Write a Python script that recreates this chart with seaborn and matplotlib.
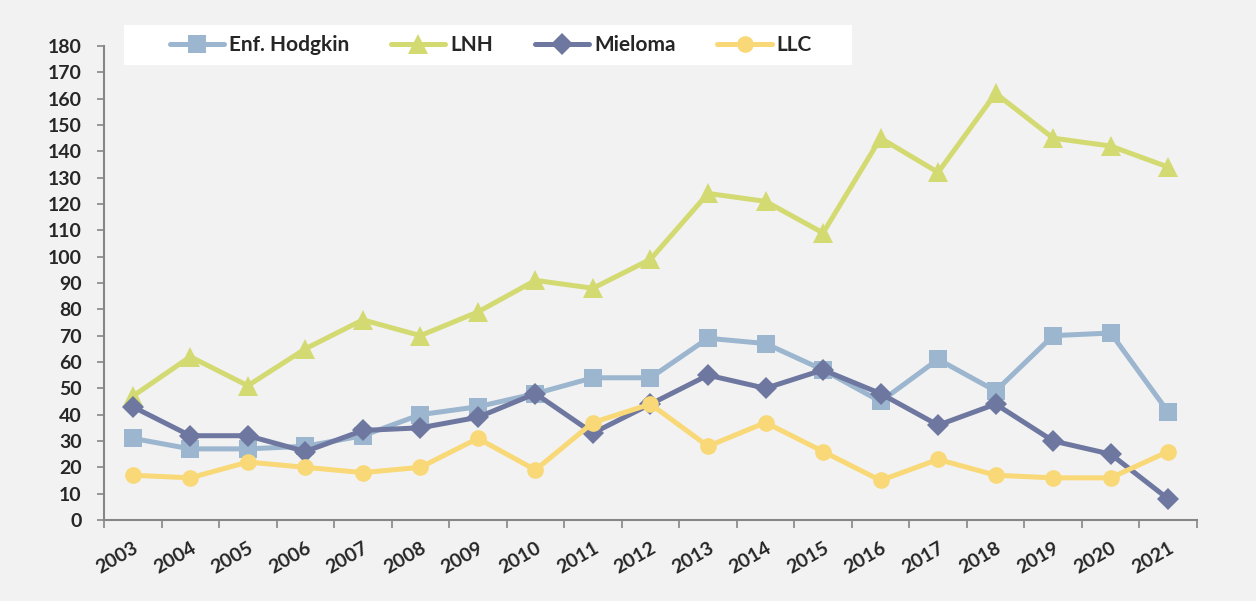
import pandas as pd
import seaborn as sns
import matplotlib.pyplot as plt
import numpy as np
from matplotlib.patches import Rectangle

# Data
years = [str(y) for y in range(2003, 2022)]
hodgkin = [31, 27, 27, 28, 32, 40, 43, 48, 54, 54, 69, 67, 57, 45, 61, 49, 70, 71, 41]
lnh = [47, 62, 51, 65, 76, 70, 79, 91, 88, 99, 124, 121, 109, 145, 132, 162, 145, 142, 134]
mieloma = [43, 32, 32, 26, 34, 35, 39, 48, 33, 44, 55, 50, 57, 48, 36, 44, 30, 25, 8]
llc = [17, 16, 22, 20, 18, 20, 31, 19, 37, 44, 28, 37, 26, 15, 23, 17, 16, 16, 26]

series_names = ['Enf. Hodgkin', 'LNH', 'Mieloma', 'LLC']
series_values = [hodgkin, lnh, mieloma, llc]
colors = ['#9BB6CE', '#D3DA72', '#6E779F', '#F9D877']
markers = ['s', '^', 'D', 'o']
marker_sizes = [13, 14, 11, 12]

bg = '#F2F2F2'
sns.set_style('ticks')
plt.rcParams['font.family'] = ['Lato', 'DejaVu Sans']
plt.rcParams['font.weight'] = 'bold'

df = pd.DataFrame({'idx': np.arange(len(years))})
for name, vals in zip(series_names, series_values):
    df[name] = vals

fig = plt.figure(figsize=(12.56, 6.01), dpi=100, facecolor=bg)
ax = fig.add_axes([0.0828, 0.1348, 0.8702, 0.7887])
ax.set_facecolor(bg)

for name, c, m, ms in zip(series_names, colors, markers, marker_sizes):
    sns.lineplot(data=df, x='idx', y=name, ax=ax, color=c, linewidth=3.6,
                 marker=m, markersize=ms, markeredgewidth=0, label=name)

ax.set_xlim(-0.5, len(years) - 0.5)
ax.set_ylim(0, 180)
ax.set_yticks(np.arange(0, 181, 10))
ax.set_yticklabels([str(v) for v in range(0, 181, 10)], fontsize=14, fontweight='bold')
ax.set_xticks(np.arange(len(years)))
ax.set_xticklabels(years, rotation=30, ha='right', rotation_mode='anchor',
                   fontsize=14, fontweight='bold')
ax.set_xticks(np.arange(-0.5, len(years)), minor=True)
ax.tick_params(axis='x', which='major', length=0, pad=14)
ax.tick_params(axis='x', which='minor', length=6, color='#868686', width=1.2)
ax.tick_params(axis='y', length=5, color='#868686', width=1.2, pad=11)
ax.set_xlabel('')
ax.set_ylabel('')

for s in ['top', 'right']:
    ax.spines[s].set_visible(False)
for s in ['left', 'bottom']:
    ax.spines[s].set_color('#868686')
    ax.spines[s].set_linewidth(1.5)

# white legend box
fig.patches.append(Rectangle((124 / 1256, 1 - 65 / 601), 728 / 1256, 40 / 601,
                             transform=fig.transFigure, facecolor='white',
                             edgecolor='none', zorder=5))

handles, labels = ax.get_legend_handles_labels()
ax.get_legend().remove()
leg = fig.legend(handles, labels, ncol=4, loc='center',
                 bbox_to_anchor=(491 / 1256, 1 - 45 / 601),
                 bbox_transform=fig.transFigure, frameon=False,
                 prop={'weight': 'bold', 'size': 15},
                 handlelength=2.6, handletextpad=0.25, columnspacing=2.0,
                 borderaxespad=0, markerscale=1.0)
leg.set_zorder(6)

fig.savefig('out.png', dpi=100, facecolor=bg)
